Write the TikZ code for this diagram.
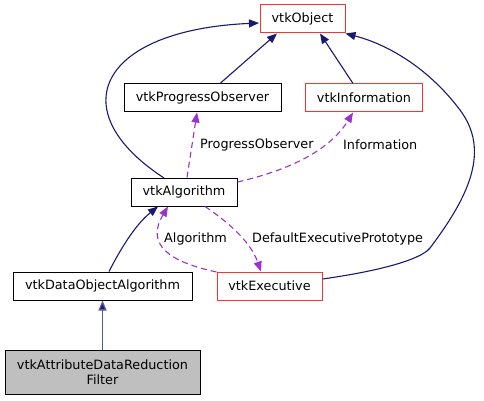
\documentclass[tikz,border=0pt]{standalone}
\usepackage{fontspec}
\setmainfont{DejaVu Sans}
\usetikzlibrary{arrows.meta}
\definecolor{navy}{HTML}{191970}
\definecolor{lnavy}{HTML}{5555A0}
\definecolor{orch}{HTML}{9A32CD}
\definecolor{boxred}{HTML}{FF3030}
\tikzset{
  cls/.style={draw=black, line width=1pt, fill=white, inner sep=0pt, minimum height=28pt, font=\fontsize{12.8}{15}\selectfont, align=center},
  redcls/.style={cls, draw=boxred},
  inh/.style={draw=navy, line width=1.1pt, -{Triangle[length=10pt,width=8pt]}},
  use/.style={draw=orch, line width=1.1pt, dash pattern=on 6pt off 4pt, -{Triangle[length=10pt,width=8pt]}},
  lab/.style={font=\fontsize{12.8}{15}\selectfont, inner sep=0pt, anchor=west}
}
\begin{document}
\begin{tikzpicture}[x=1pt,y=-1pt]
\useasboundingbox (0,0) rectangle (484,401);
\node[redcls, minimum width=85pt] (obj) at (302.5,19) {vtkObject};
\node[cls, minimum width=157pt] (po) at (202.5,98) {vtkProgressObserver};
\node[redcls, minimum width=117.6pt] (info) at (364,98) {vtkInformation};
\node[cls, minimum width=106pt] (alg) at (184,192) {vtkAlgorithm};
\node[cls, minimum width=179pt] (doa) at (102.5,286) {vtkDataObjectAlgorithm};
\node[redcls, minimum width=105pt] (exe) at (269.5,286) {vtkExecutive};
\node[cls, fill=black!25, minimum width=195pt, minimum height=44pt] (adr) at (102.5,372) {vtkAttributeDataReduction\\Filter};

\coordinate (algTopL) at (164,178);
\coordinate (objL) at (259,23);
\draw[inh] (po.north -| 220,0) -- (277,33.5);
\draw[inh] (info.north -| 353,0) -- (320,33.5);
\draw[inh] (algTopL) .. controls (60,110) and (100,30) .. (objL);
\draw[inh] (exe.east |- 0,279) .. controls (400,268) and (425,255) .. (430,248)
  .. controls (470,195) and (490,150) .. (460,110)
  .. controls (430,70) and (390,45) .. (obj.south east);
\draw[inh] (doa.north -| 109,0) .. controls (120,250) and (135,225) .. (158,206.5);
\draw[draw=lnavy, line width=1.3pt, -{Triangle[length=10pt,width=8pt,fill=navy]}] (adr.north) -- (doa.south);

\draw[use] (alg.north -| 187,0) -- (197,112.5);
\draw[use] (alg.east |- 0,182) .. controls (290,170) and (330,150) .. (353,112.5);
\draw[use] (exe.west |- 0,272) .. controls (170,262) and (145,245) .. (168,206.5);
\draw[use] (205,206.5) .. controls (225,220) and (250,240) .. (261,271.5);

\node[lab] (lpo) at (200,145) {ProgressObserver};
\node[lab] (linfo) at (343,145) {Information};
\node[lab] (lalg) at (164,239) {Algorithm};
\node[lab] (ldef) at (252,239) {DefaultExecutivePrototype};
\end{tikzpicture}
\end{document}
